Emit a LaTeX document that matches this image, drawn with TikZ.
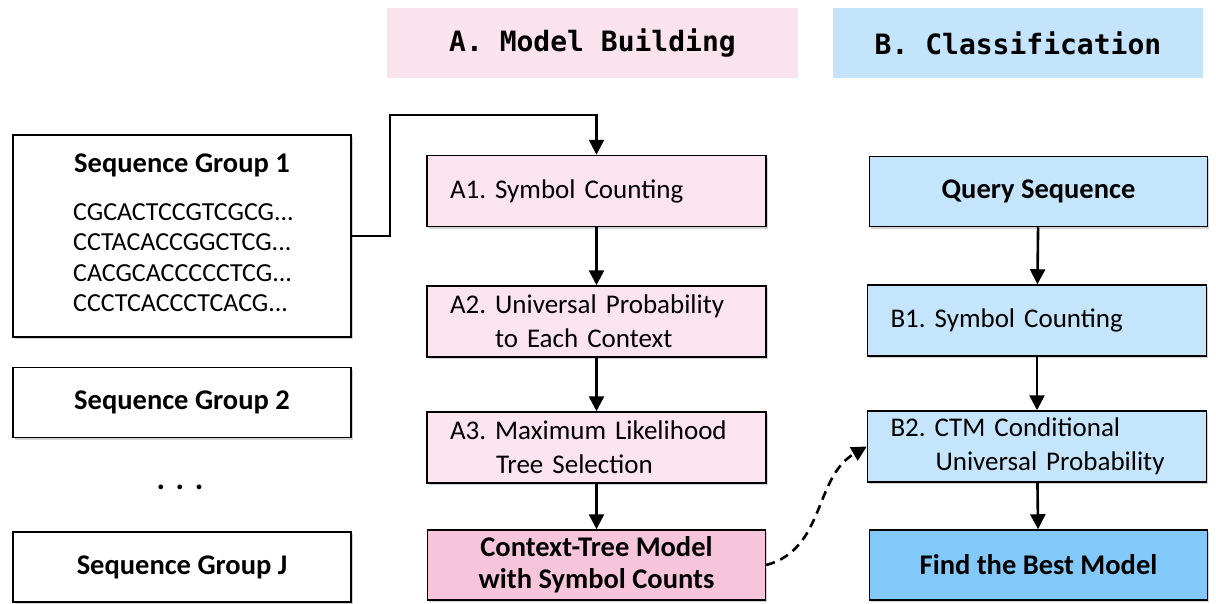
\documentclass[tikz,border=0pt]{standalone}
\usepackage{fontspec}
\setmainfont{Carlito}
\newfontfamily\headfont{DejaVu Sans Mono}
\usetikzlibrary{arrows.meta,positioning,shadows}
\definecolor{HeadPink}{HTML}{FBE3EE}
\definecolor{StepPink}{HTML}{FBE4EF}
\definecolor{ModelPink}{HTML}{F6C5DB}
\definecolor{HeadBlue}{HTML}{C4E4FB}
\definecolor{StepBlue}{HTML}{C5E5FC}
\definecolor{BestBlue}{HTML}{82C8F9}
\frenchspacing

\begin{document}
\begin{tikzpicture}[x=1pt,y=-1pt,font=\fontsize{27}{34}\selectfont,
  headbox/.style={fill=#1,minimum height=70pt,font=\headfont\bfseries\fontsize{28}{30}\selectfont},
  plainbox/.style={draw=black,line width=1.5pt,fill=white,minimum width=338pt,drop shadow={opacity=.35,shadow xshift=1.5pt,shadow yshift=-2pt}},
  stepbox/.style={plainbox,fill=#1,text width=293pt,inner xsep=23pt,align=left,minimum height=71pt,font=\fontsize{27}{34}\selectfont},
  keybox/.style={plainbox,fill=#1,minimum height=70pt,align=center,font=\bfseries\fontsize{28.5}{32}\selectfont},
  arrow/.style={-{Triangle[length=15pt,width=15pt]},line width=2.6pt}]
\useasboundingbox (0,0) rectangle (1216,603);
\node[headbox=HeadPink,minimum width=411pt] (hA) at (592.5,43) {A. Model Building};
\node[headbox=HeadBlue,minimum width=370pt] (hB) at (1018,43) {B. Classification};
% sequence groups
\node[plainbox,minimum height=202pt] (sg1) at (182,236) {};
\node[font=\bfseries\fontsize{28.5}{32}\selectfont] (sg1t) at (182,165) {Sequence Group 1};
\node[anchor=north west,inner sep=0pt,align=left,font=\fontsize{26}{30.5}\selectfont] (sg1s) at (73,203) {CGCACTCCGTCGCG...\\CCTACACCGGCTCG...\\CACGCACCCCCTCG...\\CCCTCACCCTCACG...};
\node[keybox=white] (sg2) at (182,402.5) {Sequence Group 2};
\node[font=\bfseries\fontsize{32}{32}\selectfont] (dots) at (180,487) {.\,\,.\,\,.};
\node[keybox=white] (sgJ) at (182,567) {Sequence Group J};
% model building
\node[stepbox=StepPink] (a1) at (596.5,191) {A1. Symbol Counting};
\node[stepbox=StepPink] (a2) at (596.5,321.5) {A2. Universal Probability\\\hspace{45pt}to Each Context};
\node[stepbox=StepPink] (a3) at (596.5,447.5) {A3. Maximum Likelihood\\\hspace{46pt}Tree Selection};
\node[keybox=ModelPink] (ctm) at (596.5,565) {Context-Tree Model\\with Symbol Counts};
% classification
\node[keybox=StepBlue] (q) at (1038.5,191.5) {Query Sequence};
\node[stepbox=StepBlue] (b1) at (1037,320.5) {B1. Symbol Counting};
\node[stepbox=StepBlue] (b2) at (1037,446.5) {B2. CTM Conditional\\\hspace{45pt}Universal Probability};
\node[keybox=BestBlue] (best) at (1038.5,565) {Find the Best Model};
\coordinate (bend) at (390,115);
\draw[arrow] (sg1.east) -| (bend) -| (a1.north);
\foreach \from/\to in {a1/a2,a2/a3,a3/ctm,q/b1,b1/b2,b2/best}{\draw[arrow] (\from) -- (\to);}
\draw[arrow,dash pattern=on 9pt off 6pt] (ctm.east) to[out=15,in=210] (b2.west);
\end{tikzpicture}
\end{document}
